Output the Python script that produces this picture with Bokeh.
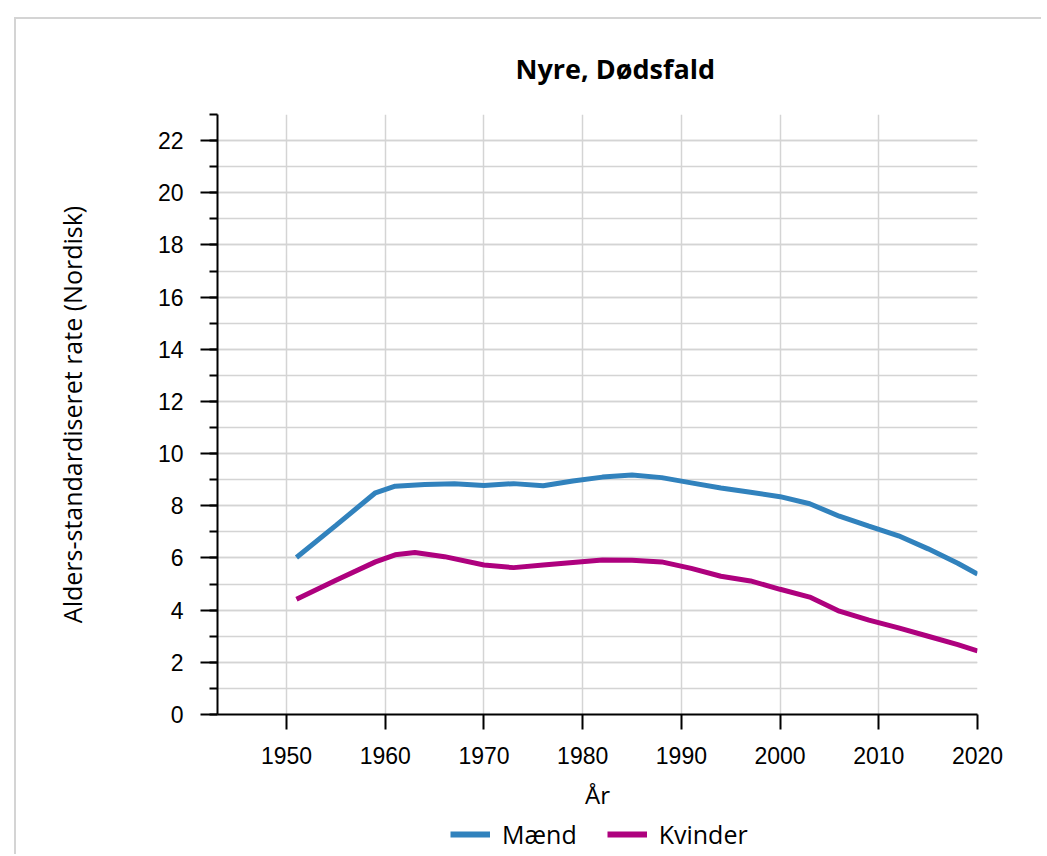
from bokeh.plotting import figure
from bokeh.layouts import column
from bokeh.models import SingleIntervalTicker, FixedTicker, Legend, LegendItem, Range1d
from bokeh.embed import file_html
from bokeh.resources import INLINE

# ---- data ----
years_maend = [1951, 1955, 1959, 1961, 1964, 1967, 1970, 1973, 1976, 1979, 1982, 1985,
               1988, 1991, 1994, 1997, 2000, 2003, 2006, 2009, 2012, 2015, 2018, 2020]
maend = [6.02, 7.25, 8.50, 8.75, 8.82, 8.85, 8.78, 8.85, 8.77, 8.95, 9.10, 9.18,
         9.08, 8.88, 8.68, 8.52, 8.35, 8.08, 7.60, 7.22, 6.85, 6.35, 5.80, 5.38]

years_kvinder = [1951, 1955, 1959, 1961, 1963, 1966, 1970, 1973, 1976, 1979, 1982, 1985,
                 1988, 1991, 1994, 1997, 2000, 2003, 2006, 2009, 2012, 2015, 2018, 2020]
kvinder = [4.42, 5.15, 5.85, 6.12, 6.21, 6.05, 5.73, 5.63, 5.73, 5.83, 5.92, 5.91,
           5.85, 5.60, 5.30, 5.12, 4.80, 4.50, 3.96, 3.62, 3.32, 3.00, 2.68, 2.44]

x_ticks = [1950, 1960, 1970, 1980, 1990, 2000, 2010, 2020]
series_names = ["Mænd", "Kvinder"]
series_colors = ["#3182bd", "#ae017e"]

GRID = "#d4d4d4"
TEXT_FONT = "Open Sans"
TICK_FONT = "Liberation Sans"
W = 1025

p = figure(width=W, height=797, output_backend="svg", toolbar_location=None,
           x_range=Range1d(1943, 2020), y_range=Range1d(0, 23),
           min_border_left=201, min_border_right=64, min_border_top=95,
           min_border_bottom=102, title="Nyre, Dødsfald")
p.outline_line_color = None
p.background_fill_color = "white"
p.border_fill_color = "white"

# title
p.title.text_font = TEXT_FONT
p.title.text_font_size = "27px"
p.title.text_font_style = "bold"
p.title.text_color = "black"
p.title.align = "left"
p.title.offset = 298
p.title.standoff = 55

# lines
r_m = p.line(years_maend, maend, line_color=series_colors[0], line_width=5)
r_k = p.line(years_kvinder, kvinder, line_color=series_colors[1], line_width=5)

# x axis
xa = p.xaxis[0]
xa.ticker = FixedTicker(ticks=x_ticks)
xa.axis_label = "År"
xa.axis_line_width = 2
xa.axis_line_color = "black"
xa.major_tick_line_width = 2
xa.major_tick_line_color = "black"
xa.major_tick_in = 0
xa.major_tick_out = 15
xa.minor_tick_line_color = None
xa.major_label_text_font = TICK_FONT
xa.major_label_text_font_size = "23px"
xa.major_label_text_color = "black"
xa.major_label_standoff = 17
xa.axis_label_text_font = TEXT_FONT
xa.axis_label_text_font_size = "24px"
xa.axis_label_text_font_style = "normal"
xa.axis_label_text_color = "black"
xa.axis_label_standoff = 11

# y axis
ya = p.yaxis[0]
ya.ticker = SingleIntervalTicker(interval=2, num_minor_ticks=2)
ya.axis_label = "Alders-standardiseret rate (Nordisk)"
ya.axis_line_width = 2
ya.axis_line_color = "black"
ya.major_tick_line_width = 2
ya.major_tick_line_color = "black"
ya.minor_tick_line_width = 2
ya.minor_tick_line_color = "black"
ya.major_tick_in = 0
ya.major_tick_out = 17
ya.minor_tick_in = 0
ya.minor_tick_out = 8
ya.major_label_text_font = TICK_FONT
ya.major_label_text_font_size = "23px"
ya.major_label_text_color = "black"
ya.major_label_standoff = 17
ya.axis_label_text_font = TEXT_FONT
ya.axis_label_text_font_size = "25px"
ya.axis_label_text_font_style = "normal"
ya.axis_label_text_color = "black"
ya.axis_label_standoff = 66

# grids
p.xgrid.ticker = FixedTicker(ticks=x_ticks)
p.xgrid.grid_line_color = GRID
p.xgrid.grid_line_width = 1.5
p.ygrid.grid_line_color = GRID
p.ygrid.grid_line_width = 1.5
p.ygrid.minor_grid_line_color = GRID
p.ygrid.minor_grid_line_width = 1.5

# legend strip below the chart: same series, drawn into a y-window where they
# fall outside the visible frame, so only the legend swatches show
pl = figure(width=W, height=38, output_backend="svg", toolbar_location=None,
            x_axis_location=None, y_axis_location=None,
            x_range=Range1d(1943, 2020), y_range=Range1d(100, 101), min_border=0)
pl.outline_line_color = None
pl.background_fill_color = "white"
pl.border_fill_color = "white"
pl.grid.visible = False
lm = pl.line(years_maend, maend, line_color=series_colors[0], line_width=6)
lk = pl.line(years_kvinder, kvinder, line_color=series_colors[1], line_width=6)

legend = Legend(items=[LegendItem(label=series_names[0], renderers=[lm]),
                       LegendItem(label=series_names[1], renderers=[lk])],
                orientation="horizontal", location=(233, 3))
legend.label_text_font = TEXT_FONT
legend.label_text_font_size = "25px"
legend.label_text_color = "black"
legend.glyph_width = 40
legend.glyph_height = 28
legend.spacing = 30
legend.padding = 0
legend.margin = 0
legend.label_standoff = 12
legend.border_line_color = None
legend.background_fill_alpha = 0
pl.add_layout(legend, "center")

layout = column(p, pl, spacing=0)
layout.styles = {"border-top": "2px solid #d4d4d4", "border-left": "2px solid #d4d4d4"}
layout.margin = (17, 0, 0, 14)

open("out.html", "w").write(file_html(layout, INLINE))
